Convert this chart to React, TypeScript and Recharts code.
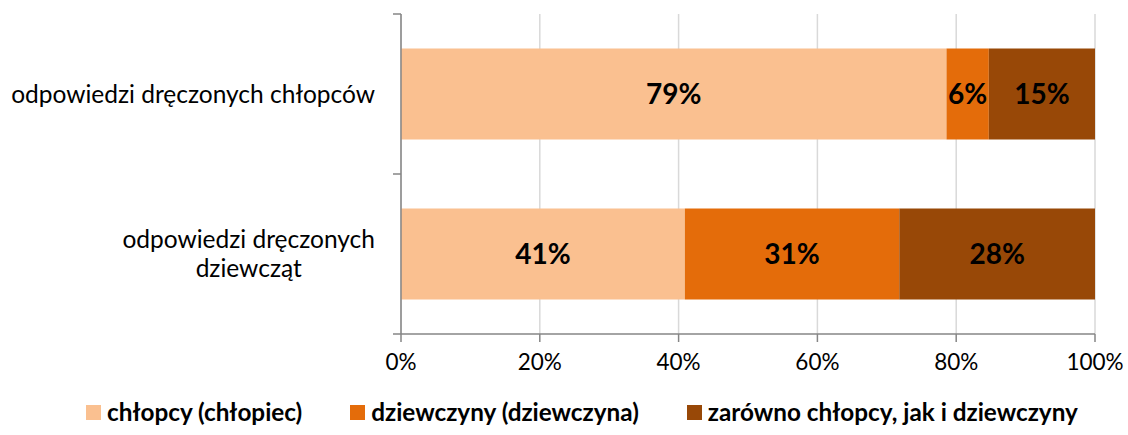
import { BarChart, Bar, XAxis, YAxis, CartesianGrid, Legend, LabelList } from 'recharts'

const KATEGORIE = ['odpowiedzi dręczonych chłopców', 'odpowiedzi dręczonych\ndziewcząt']
const CHLOPCY = [78.6, 40.9]
const DZIEWCZYNY = [6.1, 30.9]
const OBOJE = [15.3, 28.2]
const SERIE = [
  { key: 'chlopcy', name: 'chłopcy (chłopiec)', color: '#FAC090' },
  { key: 'dziewczyny', name: 'dziewczyny (dziewczyna)', color: '#E46C0A' },
  { key: 'oboje', name: 'zarówno chłopcy, jak i dziewczyny', color: '#984807' },
]
const TICKI = [0, 20, 40, 60, 80, 100]

const dane = KATEGORIE.map((k, i) => ({
  name: k, chlopcy: CHLOPCY[i], dziewczyny: DZIEWCZYNY[i], oboje: OBOJE[i],
}))

const FONT = 'Lato, sans-serif'
const AXIS = '#868686'
const ROZMIAR_KAT = 24.5

let ctx: CanvasRenderingContext2D | null = null
function szerokosc(t: string, font: string) {
  if (!ctx) ctx = document.createElement('canvas').getContext('2d')
  if (!ctx) return t.length * 10
  ctx.font = font
  return ctx.measureText(t).width
}

// etykieta kategorii + kreski osi na granicach kategorii (jak w Excelu)
function TickKategorii(props: any) {
  const { x, y, payload, index, visibleTicksCount } = props
  const linie = String(payload.value).split('\n')
  const font = `${ROZMIAR_KAT}px ${FONT}`
  const maxW = Math.max(...linie.map(l => szerokosc(l, font)))
  const cx = x - maxW / 2
  const lh = 29
  const y0 = y - ((linie.length - 1) * lh) / 2
  const pasmo = 160
  const osX = x + 26
  return (
    <g>
      {linie.map((l, i) => (
        <text key={i} x={cx} y={y0 + i * lh} dy="0.35em" textAnchor="middle"
          style={{ fontFamily: FONT, fontSize: ROZMIAR_KAT, fill: '#000' }}>{l}</text>
      ))}
      <line x1={osX - 8} x2={osX} y1={y - pasmo / 2} y2={y - pasmo / 2} stroke={AXIS} strokeWidth={1.5} />
      {index === visibleTicksCount - 1 && (
        <line x1={osX - 8} x2={osX} y1={y + pasmo / 2} y2={y + pasmo / 2} stroke={AXIS} strokeWidth={1.5} />
      )}
    </g>
  )
}

function Legenda() {
  return (
    <div style={{ display: 'flex', alignItems: 'center', paddingLeft: 86, gap: 48 }}>
      {SERIE.map(s => (
        <div key={s.key} style={{ display: 'flex', alignItems: 'center', gap: 6 }}>
          <span style={{ width: 15, height: 15, background: s.color, display: 'inline-block' }} />
          <span style={{ fontFamily: FONT, fontWeight: 700, fontSize: 24.3, color: '#000', lineHeight: '30px' }}>{s.name}</span>
        </div>
      ))}
    </div>
  )
}

export default function App() {
  return (
    <div>
      <style>{'body{margin:0}'}</style>
      <BarChart width={1128} height={435} data={dane} layout="vertical"
        margin={{ top: 14, right: 33, left: 0, bottom: 41 }} barCategoryGap="21.5%">
        <CartesianGrid horizontal={false} stroke="#d9d9d9" strokeWidth={1.5} />
        <XAxis type="number" domain={[0, 100]} ticks={TICKI} tickFormatter={(v: number) => `${v}%`}
          height={30} tickSize={8} tickMargin={12} stroke={AXIS} strokeWidth={1.5}
          tick={{ fontFamily: FONT, fontSize: 22.5, fill: '#000' }} />
        <YAxis type="category" dataKey="name" width={401} tickSize={0} tickMargin={26}
          tickLine={false} stroke={AXIS} strokeWidth={1.5} tick={<TickKategorii />} interval={0} />
        <Legend content={<Legenda />} wrapperStyle={{ top: 397, left: 0, width: 1128, height: 30 }} />
        {SERIE.map(s => (
          <Bar key={s.key} dataKey={s.key} name={s.name} stackId="a" fill={s.color} isAnimationActive={false}>
            <LabelList dataKey={s.key} position="center" formatter={(v: any) => `${Math.round(v)}%`}
              style={{ fontFamily: FONT, fontWeight: 700, fontSize: 28, fill: '#000' }} />
          </Bar>
        ))}
      </BarChart>
    </div>
  )
}
